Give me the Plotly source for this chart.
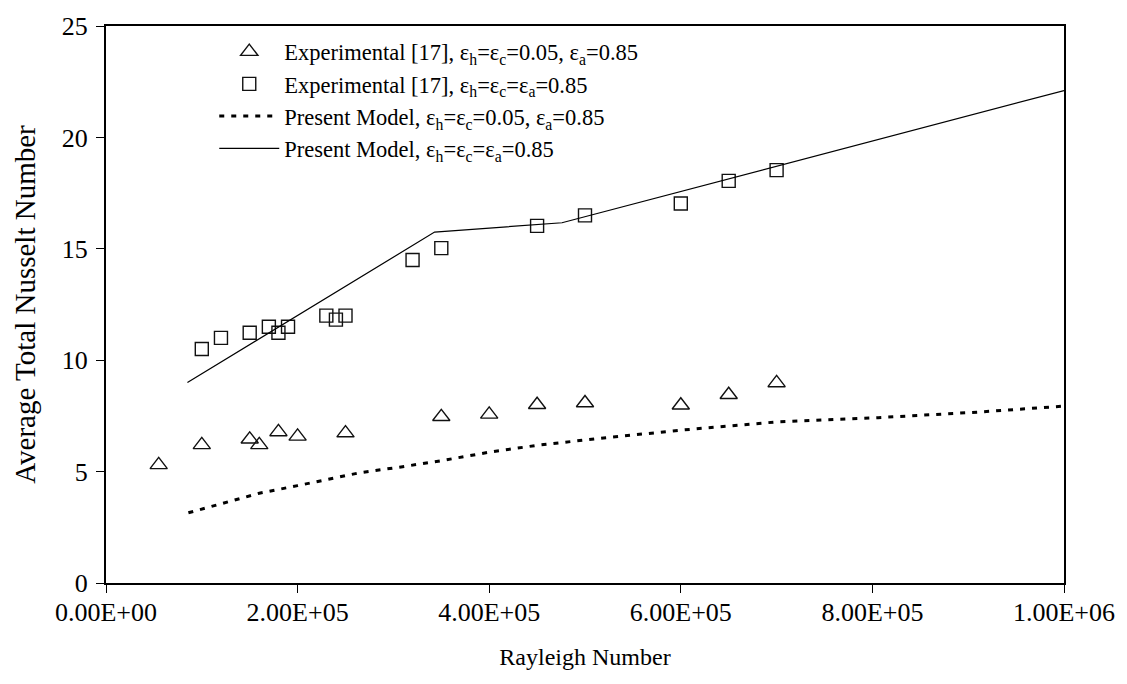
import plotly.graph_objects as go

# Experimental, eps_h = eps_c = 0.05, eps_a = 0.85 (triangles)
ra_tri = [0.55e5, 1.0e5, 1.5e5, 1.6e5, 1.8e5, 2.0e5, 2.5e5, 3.5e5, 4.0e5, 4.5e5, 5.0e5, 6.0e5, 6.5e5, 7.0e5]
nu_tri = [5.3, 6.2, 6.45, 6.2, 6.78, 6.58, 6.73, 7.46, 7.57, 8.0, 8.08, 7.98, 8.45, 8.98]

# Experimental, eps_h = eps_c = eps_a = 0.85 (squares)
ra_sq = [1.0e5, 1.2e5, 1.5e5, 1.7e5, 1.8e5, 1.9e5, 2.3e5, 2.4e5, 2.5e5, 3.2e5, 3.5e5, 4.5e5, 5.0e5, 6.0e5, 6.5e5, 7.0e5]
nu_sq = [10.5, 11.0, 11.23, 11.5, 11.23, 11.5, 12.0, 11.82, 12.0, 14.5, 15.03, 16.03, 16.5, 17.03, 18.05, 18.53]

# Present model, eps_h = eps_c = 0.05, eps_a = 0.85 (dotted)
ra_m1 = [0.86e5, 1.6e5, 2.0e5, 2.65e5, 3.08e5, 3.5e5, 4.0e5, 4.5e5, 5.15e5, 6.0e5, 7.0e5, 8.06e5, 9.1e5, 1.0e6]
nu_m1 = [3.15, 4.03, 4.37, 4.95, 5.21, 5.49, 5.87, 6.18, 6.49, 6.86, 7.23, 7.42, 7.67, 7.94]

# Present model, eps_h = eps_c = eps_a = 0.85 (solid)
ra_m2 = [0.85e5, 3.43e5, 4.76e5, 1.0e6]
nu_m2 = [9.0, 15.75, 16.17, 22.1]

x_tickvals = [0, 2e5, 4e5, 6e5, 8e5, 1e6]
x_ticktext = ["0.00E+00", "2.00E+05", "4.00E+05", "6.00E+05", "8.00E+05", "1.00E+06"]
y_tickvals = [0, 5, 10, 15, 20, 25]

names = [
    "Experimental [17], ε<sub>h</sub>=ε<sub>c</sub>=0.05, ε<sub>a</sub>=0.85",
    "Experimental [17], ε<sub>h</sub>=ε<sub>c</sub>=ε<sub>a</sub>=0.85",
    "Present Model, ε<sub>h</sub>=ε<sub>c</sub>=0.05, ε<sub>a</sub>=0.85",
    "Present Model, ε<sub>h</sub>=ε<sub>c</sub>=ε<sub>a</sub>=0.85",
]

FONT = "Liberation Serif"

fig = go.Figure()
fig.add_trace(go.Scatter(
    x=ra_tri, y=nu_tri, mode="markers", name=names[0],
    marker=dict(symbol="triangle-up-open", size=15, color="#111", line=dict(width=1.4, color="#111")),
))
fig.add_trace(go.Scatter(
    x=ra_sq, y=nu_sq, mode="markers", name=names[1],
    marker=dict(symbol="square-open", size=13, color="#111", line=dict(width=1.4, color="#111")),
))
fig.add_trace(go.Scatter(
    x=ra_m1, y=nu_m1, mode="lines", name=names[2],
    line=dict(color="black", width=3, dash="5px,7px"),
))
fig.add_trace(go.Scatter(
    x=ra_m2, y=nu_m2, mode="lines", name=names[3],
    line=dict(color="black", width=1.2),
))

fig.update_layout(
    width=1127, height=684,
    margin=dict(l=106, r=61, t=17, b=101),
    paper_bgcolor="white", plot_bgcolor="white",
    font=dict(family=FONT, size=23, color="black"),
    showlegend=True,
    legend=dict(
        x=0.113, y=0.992, xanchor="left", yanchor="top",
        bgcolor="rgba(0,0,0,0)", borderwidth=0,
        font=dict(family=FONT, size=22.5, color="black"),
        itemwidth=60, traceorder="normal",
    ),
    xaxis=dict(
        range=[0, 1e6], tickvals=x_tickvals, ticktext=x_ticktext,
        showgrid=False, zeroline=False,
        showline=True, linecolor="black", linewidth=2, mirror=True,
        ticks="outside", ticklen=8, tickwidth=1, tickcolor="black",
        tickfont=dict(family=FONT, size=26), ticklabelstandoff=-3,
        title=dict(text="Rayleigh Number", font=dict(family=FONT, size=24), standoff=22),
    ),
    yaxis=dict(
        range=[0, 25], tickvals=y_tickvals,
        showgrid=False, zeroline=False,
        showline=True, linecolor="black", linewidth=2, mirror=True,
        ticks="outside", ticklen=8, tickwidth=1, tickcolor="black",
        tickfont=dict(family=FONT, size=26), ticklabelstandoff=3,
        title=dict(text="Average Total Nusselt Number", font=dict(family=FONT, size=29), standoff=18),
    ),
)

fig.write_html("out.html")
